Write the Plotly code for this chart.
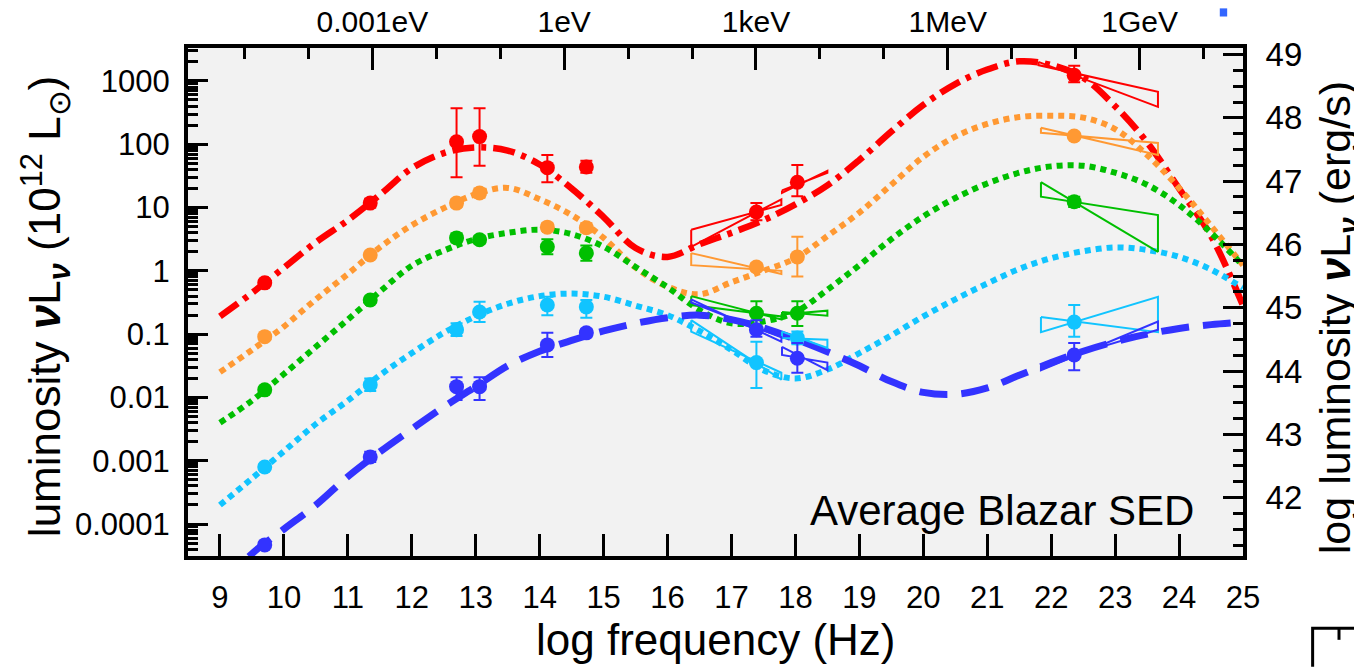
import numpy as np
import plotly.graph_objects as go

# ---------------- data ----------------
# model curves: log10 of luminosity in units of 1e12 Lsun, sampled on log frequency grid
x_model = [9.0, 9.5, 10.0, 10.5, 11.0, 11.5, 12.0, 12.5, 13.0, 13.5, 14.0, 14.5, 15.0, 15.5, 16.0, 16.5,
           17.0, 17.5, 18.0, 18.5, 19.0, 19.5, 20.0, 20.5, 21.0, 21.5, 22.0, 22.5, 23.0, 23.5, 24.0, 24.5, 25.0]
red_model = [-0.72, -0.35, 0.05, 0.45, 0.80, 1.20, 1.62, 1.86, 1.95, 1.90, 1.68, 1.30, 0.85, 0.36, 0.22, 0.42,
             0.60, 0.80, 1.05, 1.35, 1.75, 2.20, 2.62, 2.95, 3.18, 3.31, 3.25, 3.05, 2.60, 2.03, 1.30, 0.55, -0.55]
orange_model = [-1.60, -1.25, -0.88, -0.45, -0.05, 0.37, 0.72, 0.99, 1.21, 1.31, 1.13, 0.88, 0.52, 0.05, -0.25, -0.37,
                -0.18, 0.00, 0.20, 0.55, 0.92, 1.36, 1.80, 2.12, 2.32, 2.43, 2.45, 2.42, 2.24, 1.83, 1.31, 0.71, 0.09]
green_model = [-2.40, -2.05, -1.63, -1.20, -0.77, -0.33, 0.08, 0.32, 0.50, 0.60, 0.65, 0.58, 0.38, 0.06, -0.26, -0.62,
               -0.83, -0.80, -0.65, -0.30, 0.09, 0.50, 0.86, 1.15, 1.38, 1.55, 1.65, 1.66, 1.55, 1.36, 1.04, 0.60, 0.08]
cyan_model = [-3.70, -3.28, -2.85, -2.42, -2.05, -1.65, -1.30, -0.98, -0.72, -0.52, -0.40, -0.36, -0.41, -0.55, -0.70, -0.95,
              -1.25, -1.57, -1.70, -1.56, -1.30, -1.02, -0.72, -0.45, -0.20, 0.03, 0.20, 0.31, 0.37, 0.33, 0.22, 0.02, -0.27]
blue_model = [-5.00, -4.47, -4.08, -3.70, -3.25, -2.86, -2.50, -2.15, -1.83, -1.50, -1.27, -1.10, -0.95, -0.83, -0.74, -0.70,
              -0.77, -0.90, -1.08, -1.28, -1.50, -1.75, -1.92, -1.95, -1.85, -1.65, -1.45, -1.27, -1.12, -1.00, -0.91, -0.85, -0.81]

# data points (log frequency, log luminosity, upper and lower error bounds)
freq_pts = [9.70, 11.35, 12.70, 13.06, 14.12, 14.73, 17.39, 18.03, 22.36]
red_pts = [-0.19, 1.07, 2.04, 2.12, 1.63, 1.64, 0.93, 1.40, 3.09]
red_hi = [-0.14, 1.14, 2.57, 2.57, 1.83, 1.74, 1.07, 1.67, 3.24]
red_lo = [-0.24, 1.00, 1.48, 1.66, 1.40, 1.55, 0.80, 1.18, 2.98]
orange_pts = [-1.04, 0.25, 1.07, 1.23, 0.69, 0.68, 0.06, 0.22, 2.13]
orange_hi = [-0.99, 0.30, 1.13, 1.30, 0.75, 0.75, 0.12, 0.54, 2.18]
orange_lo = [-1.09, 0.20, 1.01, 1.16, 0.63, 0.61, 0.00, -0.09, 2.08]
green_pts = [-1.88, -0.46, 0.52, 0.49, 0.38, 0.28, -0.67, -0.67, 1.09]
green_hi = [-1.83, -0.41, 0.59, 0.55, 0.50, 0.40, -0.48, -0.48, 1.17]
green_lo = [-1.93, -0.51, 0.45, 0.43, 0.26, 0.16, -0.87, -0.87, 1.01]
cyan_pts = [-3.10, -1.80, -0.93, -0.65, -0.54, -0.57, -1.45, -1.06, -0.81]
cyan_hi = [-3.05, -1.70, -0.83, -0.49, -0.41, -0.46, -1.12, -0.96, -0.54]
cyan_lo = [-3.15, -1.90, -1.03, -0.81, -0.70, -0.74, -1.85, -1.16, -1.04]
blue_pts = [-4.33, -2.94, -1.83, -1.83, -1.17, -0.98, -0.93, -1.38, -1.33]
blue_hi = [-4.28, -2.86, -1.68, -1.68, -0.98, -0.92, -0.78, -1.14, -1.14]
blue_lo = [-4.38, -3.02, -2.04, -2.04, -1.36, -1.04, -1.04, -1.61, -1.57]

# bowties: series, left/right log frequency, line1 (a1 -> b1), line2 (a2 -> b2) in log luminosity
bt_series = ["red", "red", "red", "orange", "orange", "green", "green", "green",
             "cyan", "cyan", "cyan", "blue", "blue", "blue"]
bt_xl = [16.37, 17.79, 21.80, 16.37, 21.84, 16.37, 17.79, 21.84, 16.37, 17.79, 21.84, 16.37, 17.79, 21.84]
bt_xr = [17.78, 18.50, 23.67, 17.78, 23.67, 17.78, 18.50, 23.67, 17.78, 18.50, 23.67, 17.78, 18.50, 23.67]
bt_a1 = [0.65, 1.27, 3.30, 0.28, 2.26, -0.40, -0.65, 1.40, -0.78, -0.96, -0.73, -0.45, -1.20, -1.49]
bt_b1 = [1.04, 1.55, 2.59, -0.05, 1.83, -0.77, -0.71, 0.30, -1.72, -1.22, -0.97, -1.12, -1.57, -0.93]
bt_a2 = [0.38, 1.23, 3.25, 0.09, 2.18, -0.54, -0.69, 1.17, -0.96, -1.06, -0.97, -0.50, -1.33, -1.57]
bt_b2 = [1.13, 1.58, 2.83, 0.00, 2.02, -0.72, -0.63, 0.88, -1.61, -1.09, -0.41, -1.05, -1.45, -0.80]

# axis labels
x_ticks = list(range(9, 26))
y_ticks = [1e-4, 1e-3, 1e-2, 1e-1, 1, 10, 100, 1000]
y_ticktext = ["0.0001", "0.001", "0.01", "0.1", "1", "10", "100", "1000"]
energy_logfreq = [11.383, 14.383, 17.383, 20.383, 23.383]
energy_labels = ["0.001eV", "1eV", "1keV", "1MeV", "1GeV"]
right_ticks = [42, 43, 44, 45, 46, 47, 48, 49]
LOG_LSUN12_ERG = 45.583  # log10(1e12 Lsun in erg/s)

colors = {"red": "#ff0000", "orange": "#ff9933", "green": "#00bf00", "cyan": "#11c4ff", "blue": "#3333ff"}

# ---------------- figure ----------------
FONT = "Liberation Sans, Arial, Helvetica, sans-serif"
fig = go.Figure()

model_specs = [
    ("red", red_model, "22px,7px,5px,7px", 6.5),
    ("orange", orange_model, "6px,5px", 6),
    ("green", green_model, "6px,5px", 6),
    ("cyan", cyan_model, "6px,5px", 6),
    ("blue", blue_model, "28px,14px", 7),
]
for name, vals, dash, w in model_specs:
    fig.add_trace(go.Scatter(
        x=x_model, y=[10 ** v for v in vals], mode="lines",
        line=dict(color=colors[name], width=w, dash=dash, shape="spline", smoothing=1.0),
        showlegend=False, hoverinfo="skip"))

for s, xl, xr, a1, b1, a2, b2 in zip(bt_series, bt_xl, bt_xr, bt_a1, bt_b1, bt_a2, bt_b2):
    fig.add_trace(go.Scatter(
        x=[xl, xr, xr, xl, xl], y=[10 ** a1, 10 ** b1, 10 ** b2, 10 ** a2, 10 ** a1],
        mode="lines", line=dict(color=colors[s], width=2), showlegend=False, hoverinfo="skip"))

point_specs = [
    ("red", red_pts, red_hi, red_lo),
    ("orange", orange_pts, orange_hi, orange_lo),
    ("green", green_pts, green_hi, green_lo),
    ("cyan", cyan_pts, cyan_hi, cyan_lo),
    ("blue", blue_pts, blue_hi, blue_lo),
]
for name, v, hi, lo in point_specs:
    yv = np.power(10.0, v)
    fig.add_trace(go.Scatter(
        x=freq_pts, y=yv, mode="markers",
        marker=dict(color=colors[name], size=15, symbol="circle"),
        error_y=dict(type="data", symmetric=False,
                     array=np.power(10.0, hi) - yv, arrayminus=yv - np.power(10.0, lo),
                     color=colors[name], thickness=2, width=6),
        showlegend=False, hoverinfo="skip"))

# dummy trace to activate the secondary (top/right) axes
fig.add_trace(go.Scatter(x=[None], y=[None], xaxis="x2", yaxis="y2", showlegend=False, hoverinfo="skip"))

y_lo, y_hi = -4.505, 3.52
minor_y = [m * 10.0 ** e for e in range(-5, 4) for m in range(2, 10)]
minor_top = [t for t in np.arange(9.383, 25.0, 1.0) if round(t, 3) not in energy_logfreq]

fig.update_layout(
    width=1362, height=667,
    margin=dict(l=180, r=127, t=40, b=119, autoexpand=False),
    paper_bgcolor="white", plot_bgcolor="#f2f2f2",
    font=dict(family=FONT, color="black"),
    xaxis=dict(range=[8.5, 25], showgrid=False, zeroline=False, showline=True, linecolor="black", linewidth=4,
               automargin=False,
               ticks="inside", ticklen=22, tickwidth=3, tickcolor="black",
               tickmode="array", tickvals=x_ticks, ticktext=[str(t) for t in x_ticks],
               tickfont=dict(family="Liberation Sans Narrow, " + FONT, size=31), ticklabelstandoff=11),
    xaxis2=dict(range=[8.5, 25], overlaying="x", side="top", anchor="y2", showgrid=False, zeroline=False,
                automargin=False,
                showline=True, linecolor="black", linewidth=4,
                ticks="inside", ticklen=22, tickwidth=3, tickcolor="black",
                tickmode="array", tickvals=energy_logfreq, ticktext=energy_labels,
                tickfont=dict(size=30), ticklabelstandoff=0,
                minor=dict(tickmode="array", tickvals=minor_top, ticks="inside", ticklen=11, tickwidth=3, tickcolor="black")),
    yaxis=dict(type="log", range=[y_lo, y_hi], showgrid=False, zeroline=False, showline=True, automargin=False,
               linecolor="black", linewidth=4, ticks="inside", ticklen=20, tickwidth=3, tickcolor="black",
               tickmode="array", tickvals=y_ticks, ticktext=y_ticktext, tickfont=dict(size=31), ticklabelstandoff=8,
               minor=dict(tickmode="array", tickvals=minor_y, ticks="inside", ticklen=10, tickwidth=3, tickcolor="black")),
    yaxis2=dict(range=[y_lo + LOG_LSUN12_ERG, y_hi + LOG_LSUN12_ERG], overlaying="y", side="right", anchor="x2",
                automargin=False,
                showgrid=False, zeroline=False, showline=True, linecolor="black", linewidth=4,
                ticks="inside", ticklen=20, tickwidth=3, tickcolor="black",
                tickmode="array", tickvals=right_ticks, ticktext=[str(t) for t in right_ticks],
                tickfont=dict(size=33), ticklabelstandoff=12,
                minor=dict(dtick=0.25, ticks="inside", ticklen=10, tickwidth=3, tickcolor="black")),
    annotations=[
        dict(text="Average Blazar SED", xref="paper", yref="paper", x=0.955, y=0.09,
             xanchor="right", yanchor="middle", showarrow=False, font=dict(size=42)),
        dict(text="log frequency (Hz)", xref="paper", yref="paper", x=0.5, y=-0.165,
             xanchor="center", yanchor="middle", showarrow=False, font=dict(size=44)),
        dict(text="luminosity <b><i>ν</i></b>L<sub><b><i>ν</i></b></sub> (10<sup>12</sup> L<sub>⊙</sub>)",
             xref="paper", yref="paper", x=-0.1355, y=0.49, xanchor="center", yanchor="middle",
             textangle=-90, showarrow=False, font=dict(size=44)),
        dict(text="log luminosity <b><i>ν</i></b>L<sub><b><i>ν</i></b></sub> (erg/s)",
             xref="paper", yref="paper", x=1.09, y=0.47, xanchor="center", yanchor="middle",
             textangle=-90, showarrow=False, font=dict(size=43)),
    ],
    shapes=[
        dict(type="rect", xref="paper", yref="paper", x0=0.978, x1=0.985, y0=1.062, y1=1.078,
             fillcolor="#3366ff", line=dict(width=0)),
        dict(type="path", xref="paper", yref="paper",
             path="M 1.066 -0.218 L 1.066 -0.142 L 1.12 -0.142", line=dict(color="black", width=3)),
        dict(type="line", xref="paper", yref="paper", x0=1.091, x1=1.091, y0=-0.142, y1=-0.165,
             line=dict(color="black", width=3)),
    ],
)

fig.write_html("out.html")
